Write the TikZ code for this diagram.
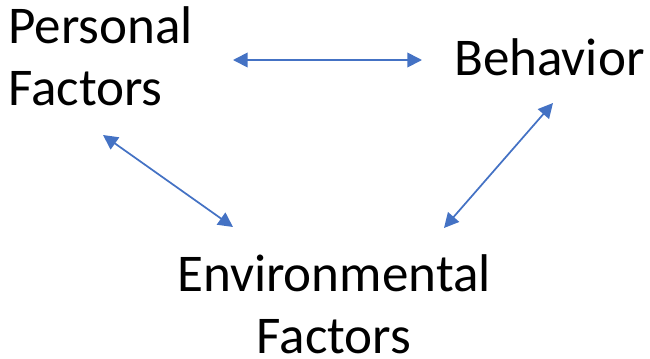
\documentclass[tikz,border=0pt]{standalone}
\usepackage{fontspec}
\setmainfont{Carlito}
\usetikzlibrary{arrows.meta}
\definecolor{arrowblue}{HTML}{4472C4}
\tikzset{
  label text/.style={inner sep=0pt, font=\fontsize{39.8}{46.5}\selectfont, text=black},
  link/.style={draw=arrowblue, line width=1.3pt, {Triangle[length=11pt,width=11pt]}-{Triangle[length=11pt,width=11pt]}}
}
\begin{document}
\begin{tikzpicture}[x=0.75pt,y=-0.75pt]
\useasboundingbox (0,0) rectangle (650,358);
\node[label text, align=left, anchor=base west] (pf) at (8,105) {Personal\\Factors};
\node[label text, anchor=base west] (beh) at (454,75) {Behavior};
\node[label text, align=center, anchor=base] (env) at (334,353) {Environmental\\Factors};
\coordinate (pfR) at (233,60);
\coordinate (behL) at (422,60);
\coordinate (pfB) at (103,135);
\coordinate (envL) at (233,227);
\coordinate (behB) at (553,103);
\coordinate (envR) at (444,228);
\draw[link] (pfR) -- (behL);
\draw[link] (pfB) -- (envL);
\draw[link] (behB) -- (envR);
\end{tikzpicture}
\end{document}
